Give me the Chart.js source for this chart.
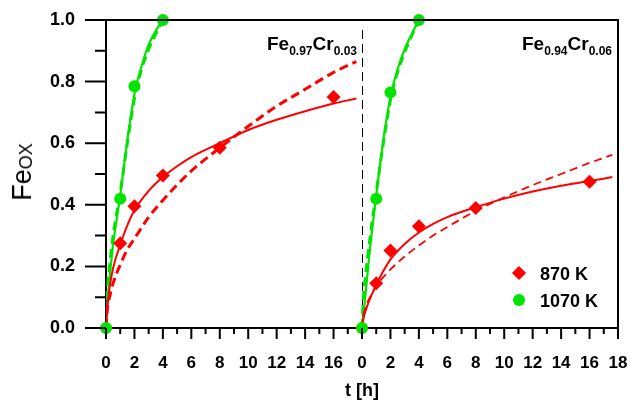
<!DOCTYPE html>
<html>
<head>
<meta charset="utf-8">
<script src="https://cdn.jsdelivr.net/npm/chart.js@4.4.1/dist/chart.umd.min.js"></script>
<style>
  body { margin: 0; background: #fff; }
  #wrap { position: relative; width: 630px; height: 404px; font-family: "Liberation Sans", Arial, sans-serif; color: #000; }
  #chart { position: absolute; left: 0; top: 0; }
  .panel { position: absolute; font-weight: bold; font-size: 19px; line-height: 19px; white-space: nowrap; }
  .panel sub { font-size: 12px; vertical-align: baseline; position: relative; top: 5px; }
  #ytitle { position: absolute; left: 24px; top: 172px; transform: translate(-50%, -50%) rotate(-90deg);
            font-size: 27px; line-height: 27px; white-space: nowrap; }
  #ytitle sub { font-size: 18px; vertical-align: baseline; position: relative; top: 1px; }
  .leg { position: absolute; left: 540px; font-weight: bold; font-size: 18px; line-height: 18px; white-space: nowrap; }
  .mark { position: absolute; }
</style>
</head>
<body>
<div id="wrap">
  <canvas id="chart" width="630" height="404"></canvas>
  <div id="ytitle">Fe<sub>OX</sub></div>
  <div class="panel" style="right:273px; top:34px;">Fe<sub>0.97</sub>Cr<sub>0.03</sub></div>
  <div class="panel" style="right:18px; top:34px;">Fe<sub>0.94</sub>Cr<sub>0.06</sub></div>
  <div class="mark" style="left:514px; top:268px; width:10px; height:10px; background:#ff0000; transform:rotate(45deg);"></div>
  <div class="leg" style="top:265px;">870 K</div>
  <div class="mark" style="left:513px; top:294px; width:12px; height:12px; border-radius:50%; background:#00e400;"></div>
  <div class="leg" style="top:292px;">1070 K</div>
</div>
<script>
// measured points, t [h]
const pointTimes870 = [0, 1, 2, 4, 8, 16];
const pointTimes1070 = [0, 1, 2, 4];
const left870 = [0, 0.275, 0.395, 0.495, 0.585, 0.75];
const left1070 = [0, 0.42, 0.785, 1.0];
const right870 = [0, 0.145, 0.252, 0.33, 0.39, 0.475];
const right1070 = [0, 0.42, 0.765, 1.0];

// fit curves
const fitTimes870 = [0, 0.1, 0.25, 0.5, 1, 1.5, 2, 3, 4, 5, 6, 8, 10, 12, 14, 16, 17.6];
const leftSolid870 = [0, 0.07, 0.13, 0.195, 0.27, 0.333, 0.382, 0.445, 0.49, 0.525, 0.555, 0.60, 0.643, 0.676, 0.704, 0.729, 0.745];
const leftDash870 = [0, 0.065, 0.10, 0.145, 0.205, 0.255, 0.29, 0.36, 0.415, 0.465, 0.51, 0.585, 0.655, 0.72, 0.775, 0.83, 0.865];
const rightSolid870 = [0, 0.03, 0.055, 0.088, 0.14, 0.185, 0.223, 0.273, 0.31, 0.338, 0.36, 0.392, 0.42, 0.443, 0.462, 0.477, 0.49];
const rightDash870 = [0, 0.04, 0.067, 0.095, 0.135, 0.165, 0.19, 0.232, 0.268, 0.30, 0.328, 0.38, 0.424, 0.464, 0.50, 0.536, 0.562];

const fitTimes1070 = [0, 0.1, 0.25, 0.5, 1, 1.5, 2, 2.5, 3, 3.5, 4];
const leftSolid1070 = [0, 0.08, 0.16, 0.27, 0.43, 0.61, 0.76, 0.85, 0.92, 0.965, 1.0];
const leftDash1070 = [0, 0.12, 0.2, 0.3, 0.44, 0.6, 0.745, 0.84, 0.905, 0.955, 1.0];
const rightSolid1070 = [0, 0.04, 0.11, 0.23, 0.43, 0.61, 0.75, 0.84, 0.905, 0.955, 1.0];
const rightDash1070 = [0, 0.1, 0.17, 0.27, 0.44, 0.6, 0.74, 0.83, 0.895, 0.95, 1.0];

// axis ticks
const xMinorTicks = [1, 3, 5, 7, 9, 11, 13, 15, 17, 19, 21, 23, 25, 27, 29, 31, 33, 35];
const yMinorTicks = [0.1, 0.3, 0.5, 0.7, 0.9];
const panelSplit = 18;

const RED = "#ff0000";
const GREEN = "#00e400";

function pts(times, vals) {
    return times.map((t, i) => ({ x: t, y: vals[i] }));
}

function fitLine(times, vals, color, width, dash, axis) {
    return {
        type: "line",
        data: pts(times, vals),
        xAxisID: axis,
        borderColor: color,
        borderWidth: width,
        borderDash: dash,
        pointRadius: 0,
        fill: false,
        cubicInterpolationMode: "monotone",
        order: 5
    };
}

function markers(times, vals, color, style, radius, axis, order) {
    return {
        type: "scatter",
        data: pts(times, vals),
        xAxisID: axis,
        backgroundColor: color,
        borderColor: color,
        borderWidth: 0,
        pointStyle: style,
        pointRadius: radius,
        clip: false,
        order: order
    };
}

// frame, tick marks and the dashed panel divider
const framePlugin = {
    id: "frame",
    beforeDatasetsDraw(chart) {
        const ctx = chart.ctx, a = chart.chartArea;
        const xd = Math.round(chart.scales.x.getPixelForValue(panelSplit)) + 0.5;
        ctx.save();
        ctx.strokeStyle = "#000";
        ctx.lineWidth = 1;
        ctx.setLineDash([9, 5]);
        ctx.beginPath();
        ctx.moveTo(xd, a.top + 10);
        ctx.lineTo(xd, a.bottom);
        ctx.stroke();
        ctx.restore();
    },
    afterDraw(chart) {
        const ctx = chart.ctx, a = chart.chartArea;
        const xs = chart.scales.x, ys = chart.scales.y;
        ctx.save();
        ctx.strokeStyle = "#000";
        ctx.lineWidth = 2;
        ctx.beginPath();
        ctx.moveTo(a.left, a.top);
        ctx.lineTo(a.right, a.top);
        ctx.lineTo(a.right, a.bottom);
        // major ticks
        xs.ticks.forEach(t => {
            const px = xs.getPixelForValue(t.value);
            ctx.moveTo(px, a.bottom);
            ctx.lineTo(px, a.bottom + 11);
        });
        ys.ticks.forEach(t => {
            const py = ys.getPixelForValue(t.value);
            ctx.moveTo(a.left, py);
            ctx.lineTo(a.left - 21, py);
        });
        // minor ticks
        xMinorTicks.forEach(t => {
            const px = xs.getPixelForValue(t);
            ctx.moveTo(px, a.bottom);
            ctx.lineTo(px, a.bottom + 6);
        });
        yMinorTicks.forEach(v => {
            const py = ys.getPixelForValue(v);
            ctx.moveTo(a.left, py);
            ctx.lineTo(a.left - 11, py);
        });
        ctx.stroke();
        ctx.restore();
    }
};

const fontFamily = "'Liberation Sans', Arial, sans-serif";

new Chart(document.getElementById("chart"), {
    type: "scatter",
    data: {
        datasets: [
            markers(pointTimes1070, left1070, GREEN, "circle", 6, "x", 0),
            markers(pointTimes870, left870, RED, "rectRot", 7, "x", 1),
            markers(pointTimes1070, right1070, GREEN, "circle", 6, "x2", 0),
            markers(pointTimes870, right870, RED, "rectRot", 7, "x2", 1),
            fitLine(fitTimes870, leftSolid870, RED, 2, [], "x"),
            fitLine(fitTimes870, leftDash870, RED, 3, [9, 5], "x"),
            fitLine(fitTimes1070, leftSolid1070, GREEN, 2.2, [], "x"),
            fitLine(fitTimes1070, leftDash1070, GREEN, 3, [9, 5], "x"),
            fitLine(fitTimes870, rightSolid870, RED, 2, [], "x2"),
            fitLine(fitTimes870, rightDash870, RED, 1.8, [8, 5], "x2"),
            fitLine(fitTimes1070, rightSolid1070, GREEN, 2.2, [], "x2"),
            fitLine(fitTimes1070, rightDash1070, GREEN, 3, [9, 5], "x2")
        ]
    },
    options: {
        responsive: false,
        animation: false,
        layout: { padding: { top: 20, right: 12, left: 0, bottom: 0 } },
        plugins: { legend: { display: false }, tooltip: { enabled: false } },
        scales: {
            x: {
                type: "linear",
                min: 0,
                max: 36,
                afterFit(scale) { scale.height = 76; },
                border: { display: true, color: "#000", width: 2 },
                // tick marks are drawn by the frame plugin; the transparent grid ticks only space the labels
                grid: { drawOnChartArea: false, drawTicks: true, tickLength: 23, tickColor: "transparent" },
                ticks: {
                    stepSize: 2,
                    autoSkip: false,
                    maxRotation: 0,
                    padding: 2,
                    color: "#000",
                    font: { family: fontFamily, size: 17, weight: "bold" },
                    callback: v => (v < panelSplit ? v : v - panelSplit)
                },
                title: {
                    display: true,
                    text: "t [h]",
                    color: "#000",
                    font: { family: fontFamily, size: 18, weight: "bold" },
                    padding: { top: 0, bottom: 2 }
                }
            },
            x2: { type: "linear", min: -panelSplit, max: panelSplit, display: false },
            y: {
                min: 0,
                max: 1,
                afterFit(scale) { scale.width = 106; },
                border: { display: true, color: "#000", width: 2 },
                grid: { drawOnChartArea: false, drawTicks: true, tickLength: 29, tickColor: "transparent" },
                ticks: {
                    stepSize: 0.2,
                    padding: 2,
                    color: "#000",
                    font: { family: fontFamily, size: 18, weight: "bold" },
                    callback: v => v.toFixed(1)
                }
            }
        }
    },
    plugins: [framePlugin]
});
</script>
</body>
</html>
